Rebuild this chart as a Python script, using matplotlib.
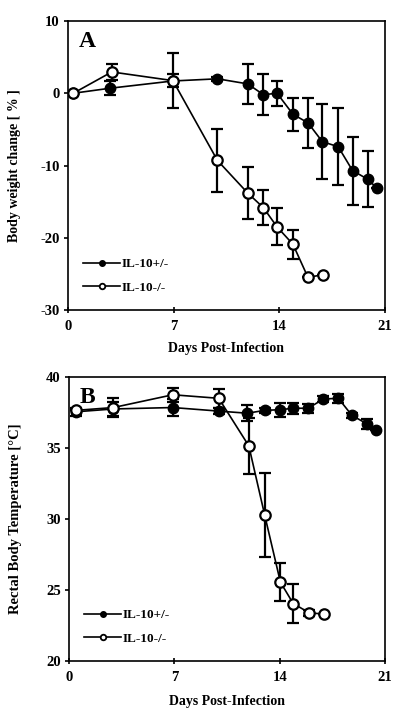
import numpy as np
import matplotlib
matplotlib.use("Agg")
import matplotlib.pyplot as plt

plt.rcParams['font.family'] = ['Liberation Serif', 'DejaVu Serif']
plt.rcParams['font.weight'] = 'bold'

# Panel A - body weight change [%]
days_het_a = [0.35, 2.8, 6.95, 9.9, 11.9, 12.95, 13.85, 14.9, 15.9, 16.85, 17.9, 18.85, 19.85, 20.45]
wt_het = [0.0, 0.7, 1.7, 2.0, 1.3, -0.2, 0.0, -2.9, -4.1, -6.7, -7.4, -10.7, -11.9, -13.1]
wt_het_err = [0.0, 1.0, 0.9, 0.3, 2.8, 2.85, 1.7, 2.3, 3.5, 5.2, 5.3, 4.7, 3.9, 0.0]

days_ko_a = [0.35, 2.9, 6.95, 9.9, 11.9, 12.95, 13.85, 14.9, 15.9, 16.9]
wt_ko = [0.0, 2.95, 1.75, -9.3, -13.8, -15.85, -18.5, -20.9, -25.5, -25.1]
wt_ko_err = [0.0, 1.05, 3.8, 4.4, 3.6, 2.4, 2.55, 2.0, 0.0, 0.0]

# Panel B - rectal body temperature [°C]
days_het_b = [0.45, 2.95, 6.9, 9.95, 11.85, 13.0, 14.05, 14.9, 15.9, 16.9, 17.9, 18.8, 19.8, 20.4]
temp_het = [37.55, 37.75, 37.85, 37.6, 37.45, 37.65, 37.7, 37.8, 37.8, 38.45, 38.5, 37.3, 36.7, 36.25]
temp_het_err = [0.3, 0.5, 0.6, 0.2, 0.55, 0.2, 0.5, 0.4, 0.3, 0.2, 0.3, 0.2, 0.35, 0.0]

days_ko_b = [0.45, 2.95, 6.9, 9.95, 11.95, 13.0, 14.05, 14.9, 15.95, 16.95]
temp_ko = [37.65, 37.85, 38.75, 38.5, 35.15, 30.3, 25.55, 24.05, 23.4, 23.3]
temp_ko_err = [0.0, 0.7, 0.5, 0.65, 1.95, 2.95, 1.35, 1.4, 0.2, 0.0]

fig = plt.figure(figsize=(4, 7.1), dpi=100)
ax_a = fig.add_axes([0.17, 0.5634, 0.7925, 0.407])
ax_b = fig.add_axes([0.1725, 0.069, 0.79, 0.400])


def draw_panel(ax, xh, yh, eh, xk, yk, ek):
    ax.errorbar(xh, yh, yerr=eh, color='black', lw=1.2, elinewidth=1.6,
                capsize=4, capthick=1.6, marker='o', ms=7.5, mfc='black',
                mec='black', zorder=3)
    ax.errorbar(xk, yk, yerr=ek, color='black', lw=1.2, elinewidth=1.6,
                capsize=4, capthick=1.6, marker='o', ms=7.5, mfc='white',
                mec='black', mew=1.6, zorder=4)
    # legend-like entries
    h1, = ax.plot([], [], color='black', lw=1.2, marker='o', ms=4, mfc='black', mec='black')
    h2, = ax.plot([], [], color='black', lw=1.2, marker='o', ms=4, mfc='white', mec='black', mew=1.3)
    ax.legend([h1, h2], ['IL-10+/-', 'IL-10-/-'], loc='lower left',
              bbox_to_anchor=(0.01, 0.015), frameon=False, handlelength=2.8,
              handletextpad=0.1, labelspacing=0.85, prop={'weight': 'bold', 'size': 9.5})
    ax.set_xlim(0, 21)
    ax.set_xticks([0, 7, 14, 21])
    ax.set_xlabel('Days Post-Infection', fontsize=10, fontweight='bold')
    ax.tick_params(axis='y', direction='out', length=3, width=1.2, labelsize=10.5, pad=3)
    ax.tick_params(axis='x', direction='inout', length=4, width=1.2, labelsize=10.5, pad=5)
    for s in ax.spines.values():
        s.set_linewidth(1.2)
    for lab in ax.get_xticklabels() + ax.get_yticklabels():
        lab.set_fontweight('bold')


draw_panel(ax_a, days_het_a, wt_het, wt_het_err, days_ko_a, wt_ko, wt_ko_err)
ax_a.set_ylim(-30, 10)
ax_a.set_yticks([10, 0, -10, -20, -30])
ax_a.set_yticklabels(['10', '0', '-10', '-20', '-30'])
ax_a.set_ylabel('Body weight change [ % ]', fontsize=10, fontweight='bold')
ax_a.yaxis.set_label_coords(-0.148, 0.5)
ax_a.xaxis.set_label_coords(0.5, -0.11)
ax_a.text(0.035, 0.965, 'A', transform=ax_a.transAxes, fontsize=17,
          fontweight='bold', va='top', ha='left')

draw_panel(ax_b, days_het_b, temp_het, temp_het_err, days_ko_b, temp_ko, temp_ko_err)
ax_b.set_ylim(20, 40)
ax_b.set_yticks([20, 25, 30, 35, 40])
ax_b.set_ylabel('Rectal Body Temperature [°C]', fontsize=10.5, fontweight='bold')
ax_b.yaxis.set_label_coords(-0.148, 0.5)
ax_b.xaxis.set_label_coords(0.5, -0.12)
ax_b.text(0.035, 0.965, 'B', transform=ax_b.transAxes, fontsize=17,
          fontweight='bold', va='top', ha='left')

fig.savefig('out.png', dpi=100)
